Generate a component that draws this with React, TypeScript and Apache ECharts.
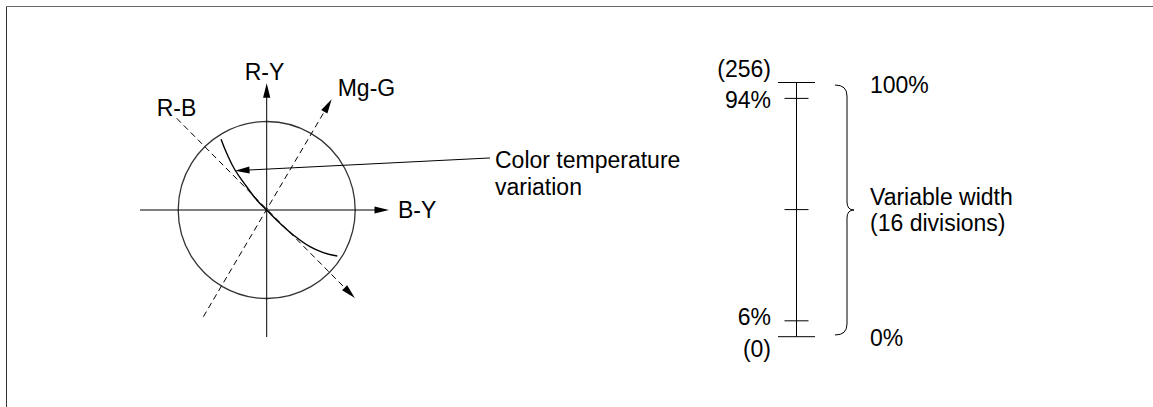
import React, { useEffect, useRef } from "react";
import * as echarts from "echarts";

const FONT_FAMILY = '"Liberation Sans", Arial, Helvetica, sans-serif';
const FONT_SIZE = 23;
const INK = "#000";

// ---------- Left: colour-difference plane (1 unit = circle radius) ----------
// segments: [x1, y1, x2, y2], arrow head at (x2, y2)
const solidAxisSegments: number[][] = [
  [0, -1.435, 0, 1.432], // R-Y
  [-1.432, 0, 1.382, 0], // B-Y
];
const dashedAxisSegments: number[][] = [
  [-1.017, 1.036, 0.996, -0.994], // R-B
  [-0.716, -1.206, 0.734, 1.251], // Mg-G
];
const leaderSegments: number[][] = [[2.523, 0.588, -0.358, 0.444]];
const circleCenter: number[][] = [[0, 0]];
const colorTempCurve: number[][] = [
  [-0.516, 0.799],
  [-0.452, 0.641],
  [-0.358, 0.452],
  [-0.226, 0.263],
  [-0.113, 0.113],
  [0, 0],
  [0.15, -0.15],
  [0.301, -0.282],
  [0.489, -0.415],
  [0.64, -0.482],
  [0.798, -0.52],
];

// ---------- Right: variable-width scale ----------
const scaleMin = 0;
const scaleMax = 256;
const scaleMajorTicks = [0, 256];
const scaleMinorTicks = [16, 128, 240];
const scaleLabelValues = [256, 240, 16, 0];
const scaleLabelTexts = ["(256)", "94%", "6%", "(0)"];

// layout (pixels)
const PLANE_CX = 266.7;
const PLANE_CY = 210;
const PLANE_R = 88.5;
const SCALE_X = 796.5;
const SCALE_TOP = 82.5;
const SCALE_BOTTOM = 336.7;
const SCALE_HALF = 18.5;
const scaleLabelShift = [-13.3, 2, -4, 11.8];

function segmentRenderer(color: string, width: number, dash: number[] | null, arrow: boolean) {
  return (params: any, api: any) => {
    const p1 = api.coord([api.value(0), api.value(1)]);
    const p2 = api.coord([api.value(2), api.value(3)]);
    const children: any[] = [];
    let end = p2;
    if (arrow) {
      const dx = p2[0] - p1[0];
      const dy = p2[1] - p1[1];
      const len = Math.hypot(dx, dy);
      const ux = dx / len;
      const uy = dy / len;
      const L = 14.5;
      const W = 3.6;
      const bx = p2[0] - ux * L;
      const by = p2[1] - uy * L;
      children.push({
        type: "polygon",
        shape: {
          points: [
            [p2[0], p2[1]],
            [bx - uy * W, by + ux * W],
            [bx + uy * W, by - ux * W],
          ],
        },
        style: { fill: color },
      });
      end = [bx + ux * 2, by + uy * 2];
    }
    children.push({
      type: "line",
      shape: { x1: p1[0], y1: p1[1], x2: end[0], y2: end[1] },
      style: { stroke: color, lineWidth: width, lineDash: dash || undefined, fill: null },
    });
    return { type: "group", children };
  };
}

function tickRenderer(half: number) {
  return (params: any, api: any) => {
    const v = api.value(1);
    const a = api.coord([-half, v]);
    const b = api.coord([half, v]);
    return {
      type: "line",
      shape: { x1: a[0], y1: a[1], x2: b[0], y2: b[1] },
      style: { stroke: INK, lineWidth: 1 },
    };
  };
}

const braceD =
  "M 835 85 Q 847 85 847 96 L 847 202 Q 847 210 854 210 Q 847 210 847 218 L 847 324 Q 847 335 835 335";

let braceRegistered = false;
function registerBrace() {
  if (braceRegistered) return;
  echarts.graphic.registerShape("brace", echarts.graphic.extendPath(braceD, {}) as any);
  braceRegistered = true;
}

function txt(text: string, x: number, y: number, align: string) {
  return {
    type: "text",
    x,
    y,
    silent: true,
    style: {
      text,
      fill: INK,
      fontSize: FONT_SIZE,
      fontFamily: FONT_FAMILY,
      align,
      verticalAlign: "middle",
    },
  };
}

export default function App() {
  const ref = useRef<HTMLDivElement>(null);

  useEffect(() => {
    if (!ref.current) return;
    registerBrace();
    const chart = echarts.init(ref.current, null, { renderer: "svg" });

    const planeSize = 3 * PLANE_R;
    const option: any = {
      animation: false,
      backgroundColor: "#fff",
      grid: [
        {
          left: PLANE_CX - 1.5 * PLANE_R,
          top: PLANE_CY - 1.5 * PLANE_R,
          width: planeSize,
          height: planeSize,
          containLabel: false,
          outerBoundsMode: "none",
        },
        {
          left: SCALE_X - SCALE_HALF,
          top: SCALE_TOP,
          width: 2 * SCALE_HALF,
          height: SCALE_BOTTOM - SCALE_TOP,
          containLabel: false,
          outerBoundsMode: "none",
        },
      ],
      xAxis: [
        { type: "value", gridIndex: 0, min: -1.5, max: 1.5, show: false },
        { type: "value", gridIndex: 1, min: -1, max: 1, show: false },
      ],
      yAxis: [
        { type: "value", gridIndex: 0, min: -1.5, max: 1.5, show: false },
        { type: "value", gridIndex: 1, min: scaleMin, max: scaleMax, show: false },
      ],
      series: [
        {
          type: "scatter",
          xAxisIndex: 0,
          yAxisIndex: 0,
          data: circleCenter,
          symbol: "circle",
          symbolSize: 2 * PLANE_R,
          silent: true,
          itemStyle: { color: "rgba(0,0,0,0)", borderColor: INK, borderWidth: 1.3 },
          z: 2,
        },
        {
          type: "custom",
          xAxisIndex: 0,
          yAxisIndex: 0,
          data: dashedAxisSegments,
          encode: { x: [0, 2], y: [1, 3] },
          renderItem: segmentRenderer(INK, 1, [6, 4], true),
          silent: true,
          z: 3,
        },
        {
          type: "custom",
          xAxisIndex: 0,
          yAxisIndex: 0,
          data: solidAxisSegments,
          encode: { x: [0, 2], y: [1, 3] },
          renderItem: segmentRenderer(INK, 1, null, true),
          silent: true,
          z: 4,
        },
        {
          type: "line",
          xAxisIndex: 0,
          yAxisIndex: 0,
          data: colorTempCurve,
          smooth: 0.4,
          symbol: "none",
          showSymbol: false,
          silent: true,
          clip: false,
          lineStyle: { color: INK, width: 1.4 },
          z: 5,
        },
        {
          type: "custom",
          xAxisIndex: 0,
          yAxisIndex: 0,
          data: leaderSegments,
          encode: { x: [0, 2], y: [1, 3] },
          renderItem: segmentRenderer(INK, 1, null, true),
          silent: true,
          z: 6,
        },
        {
          type: "line",
          xAxisIndex: 1,
          yAxisIndex: 1,
          data: [
            [0, scaleMin],
            [0, scaleMax],
          ],
          symbol: "none",
          showSymbol: false,
          silent: true,
          lineStyle: { color: INK, width: 1 },
        },
        {
          type: "custom",
          xAxisIndex: 1,
          yAxisIndex: 1,
          data: scaleMajorTicks.map((v) => [0, v]),
          encode: { x: 0, y: 1 },
          renderItem: tickRenderer(1),
          silent: true,
        },
        {
          type: "custom",
          xAxisIndex: 1,
          yAxisIndex: 1,
          data: scaleMinorTicks.map((v) => [0, v]),
          encode: { x: 0, y: 1 },
          renderItem: tickRenderer(12 / SCALE_HALF),
          silent: true,
        },
        {
          type: "custom",
          xAxisIndex: 1,
          yAxisIndex: 1,
          data: scaleLabelValues.map((v) => [0, v]),
          encode: { x: 0, y: 1 },
          silent: true,
          renderItem: (params: any, api: any) => {
            const i = params.dataIndex;
            const p = api.coord([api.value(0), api.value(1)]);
            return {
              type: "text",
              x: p[0] - 25.5,
              y: p[1] + scaleLabelShift[i],
              style: {
                text: scaleLabelTexts[i],
                fill: INK,
                fontSize: FONT_SIZE,
                fontFamily: FONT_FAMILY,
                align: "right",
                verticalAlign: "middle",
              },
            };
          },
        },
      ],
      graphic: [
        {
          type: "line",
          silent: true,
          shape: { x1: 6.5, y1: 6.5, x2: 1160, y2: 6.5 },
          style: { stroke: "#666", lineWidth: 1 },
        },
        {
          type: "line",
          silent: true,
          shape: { x1: 6.5, y1: 6.5, x2: 6.5, y2: 420 },
          style: { stroke: "#333", lineWidth: 1 },
        },
        {
          type: "brace",
          x: 0,
          y: 0,
          silent: true,
          style: { fill: "none", stroke: INK, lineWidth: 1 },
        },
        txt("R-Y", 264.5, 72, "center"),
        txt("Mg-G", 337.7, 87.5, "left"),
        txt("R-B", 176.5, 107.5, "center"),
        txt("B-Y", 398, 210, "left"),
        txt("Color temperature", 495, 160, "left"),
        txt("variation", 495, 186.7, "left"),
        txt("100%", 870, 84.7, "left"),
        txt("Variable width", 870, 196.7, "left"),
        txt("(16 divisions)", 870, 223.3, "left"),
        txt("0%", 870, 337.5, "left"),
      ],
    };

    chart.setOption(option);
    return () => {
      chart.dispose();
    };
  }, []);

  return (
    <div
      ref={ref}
      style={{ position: "fixed", left: 0, top: 0, width: "1153px", height: "407px", background: "#fff" }}
    />
  );
}
